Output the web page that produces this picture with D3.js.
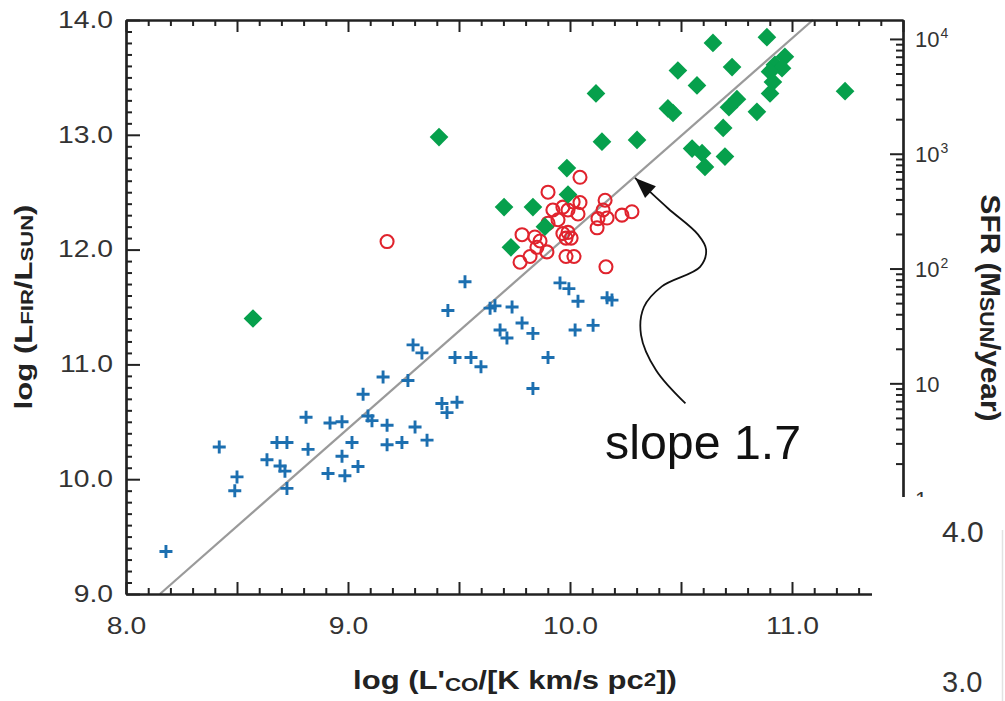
<!DOCTYPE html>
<html><head><meta charset="utf-8">
<script src="https://cdn.jsdelivr.net/npm/d3@7"></script>
<style>
html,body{margin:0;padding:0;background:#fff;}
svg{display:block;font-family:"Liberation Sans",Arial,Helvetica,sans-serif;}
</style></head><body>
<svg id="chart" width="1005" height="701"></svg>
<script>
// ---------------- data (log L'CO , log LFIR) ----------------
const blueX = [8.18,8.42,8.50,8.49,8.635,8.68,8.725,8.694,8.716,8.725,8.811,8.82,8.919,8.973,9.018,8.973,8.91,8.986,9.045,9.068,9.09,9.108,9.176,9.176,9.243,9.302,9.356,9.423,9.491,9.446,9.158,9.27,9.293,9.333,9.482,9.554,9.599,9.45,9.527,9.64,9.662,9.739,9.685,9.716,9.784,9.833,9.901,9.833,9.955,9.995,10.036,10.023,10.104,10.167,10.189];
const blueY = [9.37,10.28,10.02,9.90,10.17,10.32,10.32,10.115,10.07,9.92,10.54,10.26,10.49,10.50,10.32,10.20,10.05,10.03,10.11,10.74,10.55,10.51,10.47,10.30,10.32,10.455,10.34,10.66,10.67,10.58,10.89,10.86,11.17,11.10,11.06,11.06,10.98,11.47,11.72,11.49,11.51,11.50,11.30,11.23,11.36,11.27,11.06,10.79,11.71,11.66,11.55,11.30,11.34,11.58,11.56];
const redX = [9.176,10.045,9.901,10.014,10.045,9.923,9.968,9.991,10.036,10.158,9.946,9.901,10.149,10.167,10.126,10.122,10.234,10.279,9.784,9.842,9.865,9.851,9.896,9.968,9.991,10.005,9.982,9.775,9.82,9.982,10.018,10.162];
const redY = [12.07,12.63,12.50,12.415,12.41,12.345,12.37,12.345,12.31,12.43,12.26,12.23,12.345,12.275,12.27,12.19,12.30,12.33,12.13,12.11,12.075,12.02,11.98,12.14,12.15,12.10,12.10,11.89,11.94,11.94,11.94,11.85];
const greenX = [8.572,9.41,11.239,10.486,10.572,10.117,10.441,10.464,10.144,10.302,10.55,10.595,10.608,9.986,9.991,9.703,9.833,9.887,9.734,10.644,10.887,10.73,10.968,10.923,10.955,10.901,10.914,10.901,10.752,10.716,10.842,10.69,10.698];
const greenY = [11.40,12.98,13.38,13.56,13.43,13.36,13.23,13.19,12.94,12.955,12.88,12.84,12.72,12.71,12.48,12.37,12.37,12.20,12.02,13.80,13.85,13.59,13.68,13.61,13.58,13.55,13.46,13.36,13.31,13.24,13.20,13.06,12.81];

const xMajorTicks = [8.0,8.5,9.0,9.5,10.0,10.5,11.0,11.5];
const xTickLabels = ["8.0","9.0","10.0","11.0"];
const yMajorTicks = [9,10,11,12,13,14];
const yTickLabels = ["9.0","10.0","11.0","12.0","13.0","14.0"];
const sfrMajorTicks = [1,10,100,1000,10000];
const sfrTickBase = ["1","10","10","10","10"];
const sfrTickExp  = ["","","2","3","4"];
const fitSlope = 1.7, fitIntercept = -4.86;
const slopeLabel = "slope 1.7";
// annotation arrow path (data units), tip first
const arrowX = [10.293,10.441,10.577,10.613,10.586,10.414,10.333,10.32,10.387,10.52];
const arrowY = [12.624,12.36,12.13,12.00,11.85,11.68,11.50,11.256,10.951,10.66];
const slopeLabelPos = [10.158, 10.176];

// ---------------- scales ----------------
const svg = d3.select("#chart");
const x = d3.scaleLinear().domain([8, 11.5]).range([126, 903]);
const y = d3.scaleLinear().domain([9, 14]).range([594, 20]);
const sfrOffset = 9.835;
const ySfr = d3.scaleLog().domain([Math.pow(10, 9 - sfrOffset), Math.pow(10, 14 - sfrOffset)]).range([594, 20]);

const AX = "#222", LBL = "#333", SX = 1.23, TFS = 23;
const xMinor = d3.range(80, 116, 1).map(v => v / 10).filter(v => Math.round(v * 10) % 5 !== 0);
const yMinor = d3.range(90, 141, 1).map(v => v / 10).filter(v => Math.round(v * 10) % 10 !== 0);
const sfrMinor = [];
[-1, 0, 1, 2, 3, 4].forEach(e => { for (let k = 2; k <= 9; k++) { const v = k * Math.pow(10, e); if (v > ySfr.domain()[0] && v < ySfr.domain()[1]) sfrMinor.push(v); } });

function styleAxis(g) {
  g.attr("font-family", null).attr("font-size", null);
  g.selectAll("path.domain").attr("stroke", AX).attr("stroke-width", 2.2);
  g.selectAll(".tick line").attr("stroke", AX).attr("stroke-width", 2);
}

// ---------------- fit line ----------------
const fitX0 = (9 - fitIntercept) / fitSlope, fitX1 = (14 - fitIntercept) / fitSlope;
svg.append("line")
  .attr("x1", x(fitX0)).attr("y1", y(fitSlope * fitX0 + fitIntercept))
  .attr("x2", x(fitX1)).attr("y2", y(fitSlope * fitX1 + fitIntercept))
  .attr("stroke", "#9a9a9a").attr("stroke-width", 2.2);

// ---------------- points ----------------
const blue = blueX.map((v, i) => [v, blueY[i]]);
const red = redX.map((v, i) => [v, redY[i]]);
const green = greenX.map((v, i) => [v, greenY[i]]);

svg.append("g").selectAll("path").data(blue).join("path")
  .attr("transform", d => `translate(${x(d[0])},${y(d[1])})`)
  .attr("d", "M-6.5,0H6.5M0,-6.5V6.5")
  .attr("stroke", "#1c6fb0").attr("stroke-width", 2.9).attr("fill", "none");

svg.append("g").selectAll("circle").data(red).join("circle")
  .attr("cx", d => x(d[0])).attr("cy", d => y(d[1])).attr("r", 6.5)
  .attr("fill", "none").attr("stroke", "#e0232d").attr("stroke-width", 2.1);

const diamond = d3.symbol().type(d3.symbolSquare).size(175);
svg.append("g").selectAll("path").data(green).join("path")
  .attr("transform", d => `translate(${x(d[0])},${y(d[1])}) rotate(45)`)
  .attr("d", diamond).attr("fill", "#06a04c");

// ---------------- axes ----------------
// bottom
const gB = svg.append("g").attr("transform", "translate(0,594)");
gB.call(d3.axisBottom(x).tickValues(xMinor).tickSize(-6).tickSizeOuter(0).tickFormat(""));
gB.append("g").call(d3.axisBottom(x).tickValues(xMajorTicks).tickSize(-12).tickSizeOuter(0).tickPadding(24)
  .tickFormat(d => { const s = d.toFixed(1); return xTickLabels.includes(s) ? s : ""; }));
styleAxis(gB);
gB.selectAll("text").attr("font-size", TFS).attr("fill", LBL).attr("transform", `scale(${SX},1)`);
// top
const gT = svg.append("g").attr("transform", "translate(0,20)");
gT.call(d3.axisTop(x).tickValues(xMinor).tickSize(-6).tickSizeOuter(0).tickFormat(""));
gT.append("g").call(d3.axisTop(x).tickValues(xMajorTicks).tickSize(-12).tickSizeOuter(0).tickFormat(""));
styleAxis(gT);
// left
const gL = svg.append("g").attr("transform", "translate(126,0)");
gL.call(d3.axisLeft(y).tickValues(yMinor).tickSize(-6).tickSizeOuter(0).tickFormat(""));
gL.append("g").call(d3.axisLeft(y).tickValues(yMajorTicks).tickSize(-14).tickSizeOuter(0).tickPadding(13)
  .tickFormat((d, i) => yTickLabels[i]));
styleAxis(gL);
gL.selectAll("text").attr("font-size", TFS).attr("fill", LBL).attr("x", -13 / SX).attr("transform", `scale(${SX},1)`);
// right (SFR, log)
const gR = svg.append("g").attr("transform", "translate(903,0)");
gR.call(d3.axisRight(ySfr).tickValues(sfrMinor).tickSize(-7).tickSizeOuter(0).tickFormat(""));
const gRM = gR.append("g").call(d3.axisRight(ySfr).tickValues(sfrMajorTicks).tickSize(-13).tickSizeOuter(0).tickFormat(""));
styleAxis(gR);
gRM.selectAll(".tick").each(function (d, i) {
  const t = d3.select(this).append("text").attr("x", 12).attr("dy", "0.36em")
    .attr("font-size", 22).attr("fill", LBL).attr("text-anchor", "start");
  t.append("tspan").text(sfrTickBase[i]);
  if (sfrTickExp[i]) t.append("tspan").attr("font-size", 14).attr("dy", -9).attr("dx", 1).text(sfrTickExp[i]);
});

// ---------------- titles ----------------
function fitted(parent, transform, target, build) {
  const g = parent.append("g");
  const t = g.append("text").attr("text-anchor", "middle").attr("font-weight", "bold").attr("fill", "#222");
  build(t);
  const w = t.node().getBBox().width;
  g.attr("transform", transform + ` scale(${target / w},1)`);
  return t;
}
fitted(svg, "translate(32,307) rotate(-90)", 205, t => {
  t.attr("font-size", 24);
  t.append("tspan").text("log (L");
  t.append("tspan").attr("font-size", 17).attr("dy", 1).text("FIR");
  t.append("tspan").attr("dy", -1).text("/L");
  t.append("tspan").attr("font-size", 17).attr("dy", 1).text("SUN");
  t.append("tspan").attr("dy", -1).text(")");
});
fitted(svg, "translate(981,308) rotate(90)", 227, t => {
  t.attr("font-size", 28);
  t.append("tspan").text("SFR (M");
  t.append("tspan").attr("font-size", 20).attr("dy", 1).text("SUN");
  t.append("tspan").attr("dy", -1).text("/year)");
});
fitted(svg, "translate(515,689)", 324, t => {
  t.attr("font-size", 25);
  t.append("tspan").text("log (L'");
  t.append("tspan").attr("font-size", 18).attr("dy", 2).text("CO");
  t.append("tspan").attr("dy", -2).text("/[K km/s pc");
  t.append("tspan").attr("font-size", 18).attr("dy", -3).text("2");
  t.append("tspan").attr("dy", 3).text("])");
});

// ---------------- annotation ----------------
const ap = arrowX.map((v, i) => [x(v), y(arrowY[i])]);
svg.append("path").attr("d", d3.line().curve(d3.curveCatmullRom.alpha(0.5))(ap))
  .attr("fill", "none").attr("stroke", "#111").attr("stroke-width", 1.8);
const ang = Math.atan2(ap[0][1] - ap[1][1], ap[0][0] - ap[1][0]) * 180 / Math.PI;
svg.append("path").attr("d", "M0,0L-21,-8L-21,8Z").attr("fill", "#111")
  .attr("transform", `translate(${ap[0][0]},${ap[0][1]}) rotate(${ang})`);
{
  const g = svg.append("g");
  const t = g.append("text").attr("font-size", 49).attr("fill", "#111").text(slopeLabel);
  const w = t.node().getBBox().width;
  g.attr("transform", `translate(${x(slopeLabelPos[0])},${y(slopeLabelPos[1])}) scale(${196 / w},1)`);
}

// ---------------- pasted patch bottom-right ----------------
svg.append("rect").attr("x", 872).attr("y", 497).attr("width", 133).attr("height", 204).attr("fill", "#fff");
svg.append("line").attr("x1", 1002.5).attr("x2", 1002.5).attr("y1", 530).attr("y2", 701).attr("stroke", "#e2e2e2").attr("stroke-width", 1.5);
svg.append("text").attr("x", 942).attr("y", 542).attr("font-size", 30).attr("fill", LBL).text("4.0");
svg.append("text").attr("x", 942).attr("y", 692).attr("font-size", 29).attr("fill", LBL).text("3.0");
</script>
</body></html>
